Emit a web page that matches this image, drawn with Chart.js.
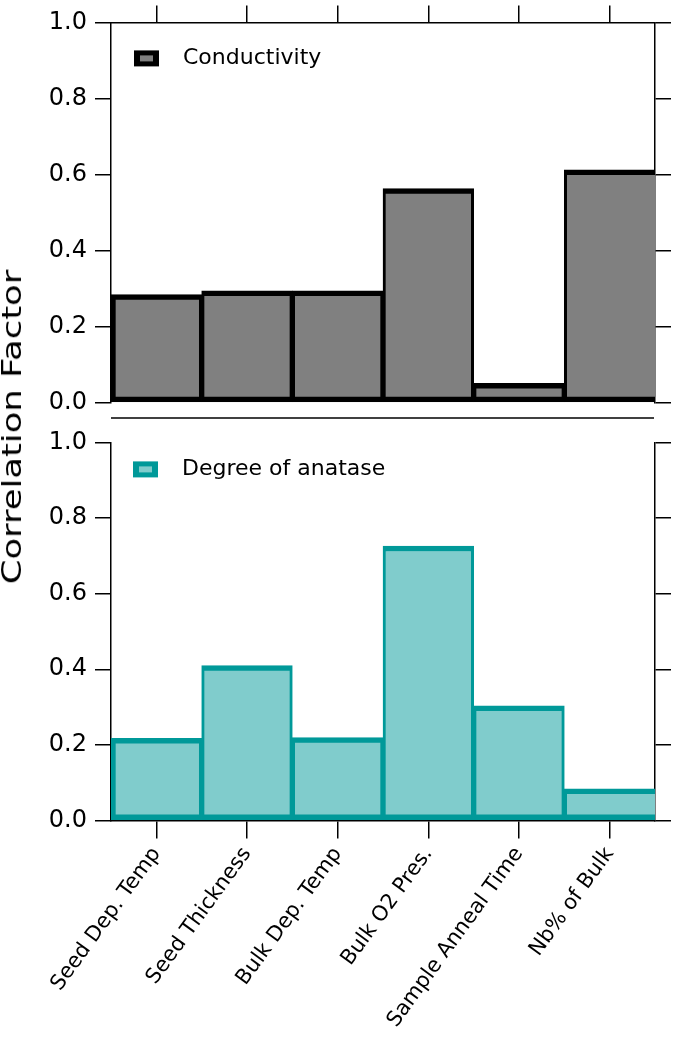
<!DOCTYPE html>
<html>
<head>
<meta charset="utf-8">
<script src="https://cdn.jsdelivr.net/npm/chart.js@4.4.0/dist/chart.umd.min.js"></script>
<style>
  html, body { margin: 0; padding: 0; background: #fff; }
  #wrap { position: relative; width: 675px; height: 1037px; overflow: hidden; }
  #top { position: absolute; left: 0; top: 0; width: 675px; height: 425px; }
  #bottom { position: absolute; left: 0; top: 420px; width: 675px; height: 617px; }
  #ytitle {
    position: absolute; left: 12px; top: 427px;
    transform: translate(-50%, -50%) rotate(-90deg) scaleX(1.36);
    font: 26px "DejaVu Sans"; line-height: 26px; white-space: nowrap; color: #000;
  }
</style>
</head>
<body>
<div id="wrap">
  <div id="top"><canvas id="c1"></canvas></div>
  <div id="bottom"><canvas id="c2"></canvas></div>
  <div id="ytitle">Correlation Factor</div>
</div>
<script>
const categories = ['Seed Dep. Temp', 'Seed Thickness', 'Bulk Dep. Temp', 'Bulk O2 Pres.', 'Sample Anneal Time', 'Nb% of Bulk'];
const conductivity = [0.284, 0.294, 0.294, 0.563, 0.051, 0.612];
const anatase = [0.217, 0.410, 0.219, 0.726, 0.303, 0.084];
const yTicks = [0.0, 0.2, 0.4, 0.6, 0.8, 1.0];

const FONT = 'DejaVu Sans';
Chart.defaults.font.family = FONT;
Chart.defaults.color = '#000';

// each bar keeps its own outline, the last one runs into the right axis
const barBorder = (ctx) => {
  const last = ctx.dataIndex === categories.length - 1;
  return { top: 5.5, bottom: 5.5, left: ctx.dataIndex === 0 ? 5 : 3, right: last ? 0 : 3 };
};

// legend drawn inside the plot, like the original
const legendBox = {
  id: 'legendBox',
  afterDraw(chart, args, opts) {
    const ds = chart.data.datasets[0];
    const a = chart.chartArea;
    const x = a.left + opts.dx, y = a.top + opts.dy;
    const ctx = chart.ctx;
    ctx.save();
    ctx.fillStyle = ds.borderColor;
    ctx.fillRect(x, y, 25, 16);
    ctx.fillStyle = ds.backgroundColor;
    ctx.fillRect(x + 6, y + 5, 13, 6);
    ctx.fillStyle = '#000';
    ctx.font = '22px "' + FONT + '"';
    ctx.textBaseline = 'middle';
    ctx.fillText(ds.label, x + 49, y + 8);
    ctx.restore();
  }
};

// the free line under the top panel
const separator = {
  id: 'separator',
  afterDraw(chart, args, opts) {
    if (!opts.gap) return;
    const a = chart.chartArea, ctx = chart.ctx;
    ctx.save();
    ctx.strokeStyle = '#000';
    ctx.lineWidth = 1.5;
    ctx.beginPath();
    ctx.moveTo(a.left, a.bottom + opts.gap);
    ctx.lineTo(a.right - 1, a.bottom + opts.gap);
    ctx.stroke();
    ctx.restore();
  }
};

function yAxis(side, width) {
  return {
    type: 'linear', position: side, min: 0, max: 1,
    afterBuildTicks: s => { s.ticks = yTicks.map(v => ({ value: v })); },
    ticks: {
      display: side === 'left', padding: 8, color: '#000',
      font: { size: 24 }, callback: v => v.toFixed(1)
    },
    grid: { drawOnChartArea: false, drawTicks: true, tickLength: 16, color: '#000', lineWidth: 1.5 },
    border: { display: true, color: '#000', width: 1.5 },
    afterFit: s => { s.width = width; }
  };
}

function makeChart(id, label, values, fill, stroke, xAxis, padding, legendPos, gap) {
  return new Chart(document.getElementById(id), {
    type: 'bar',
    data: {
      labels: categories,
      datasets: [{
        label: label,
        data: values,
        backgroundColor: fill,
        borderColor: stroke,
        borderWidth: barBorder,
        borderSkipped: false,
        categoryPercentage: 1,
        barPercentage: 1,
        yAxisID: 'y'
      }]
    },
    options: {
      responsive: true,
      maintainAspectRatio: false,
      animation: false,
      layout: { padding: padding },
      plugins: {
        legend: { display: false },
        tooltip: { enabled: false },
        legendBox: legendPos,
        separator: { gap: gap }
      },
      scales: {
        x: xAxis,
        y: yAxis('left', 111),
        y2: yAxis('right', 20)
      }
    },
    plugins: [legendBox, separator]
  });
}

makeChart('c1', 'Conductivity', conductivity, '#808080', '#000000', {
  type: 'category', position: 'top', offset: true,
  ticks: { display: false },
  grid: { offset: false, drawOnChartArea: false, drawTicks: true, tickLength: 17, color: '#000', lineWidth: 1.5 },
  border: { display: true, color: '#000', width: 1.5 },
  afterFit: s => { s.height = 21; }
}, { top: 0, bottom: 20.5, left: 0, right: 0 }, { dx: 23, dy: 28 }, 15.5);

makeChart('c2', 'Degree of anatase', anatase, '#80cccc', '#009999', {
  type: 'category', position: 'bottom', offset: true,
  ticks: { color: '#000', font: { size: 21 }, minRotation: 54, maxRotation: 54, padding: 4, autoSkip: false },
  grid: { offset: false, drawOnChartArea: false, drawTicks: true, tickLength: 18, color: '#000', lineWidth: 1.5 },
  border: { display: true, color: '#000', width: 1.5 },
  afterFit: s => { s.height = 216.5; }
}, { top: 17, bottom: 0, left: 0, right: 0 }, { dx: 22, dy: 19 }, 0);
</script>
</body>
</html>
